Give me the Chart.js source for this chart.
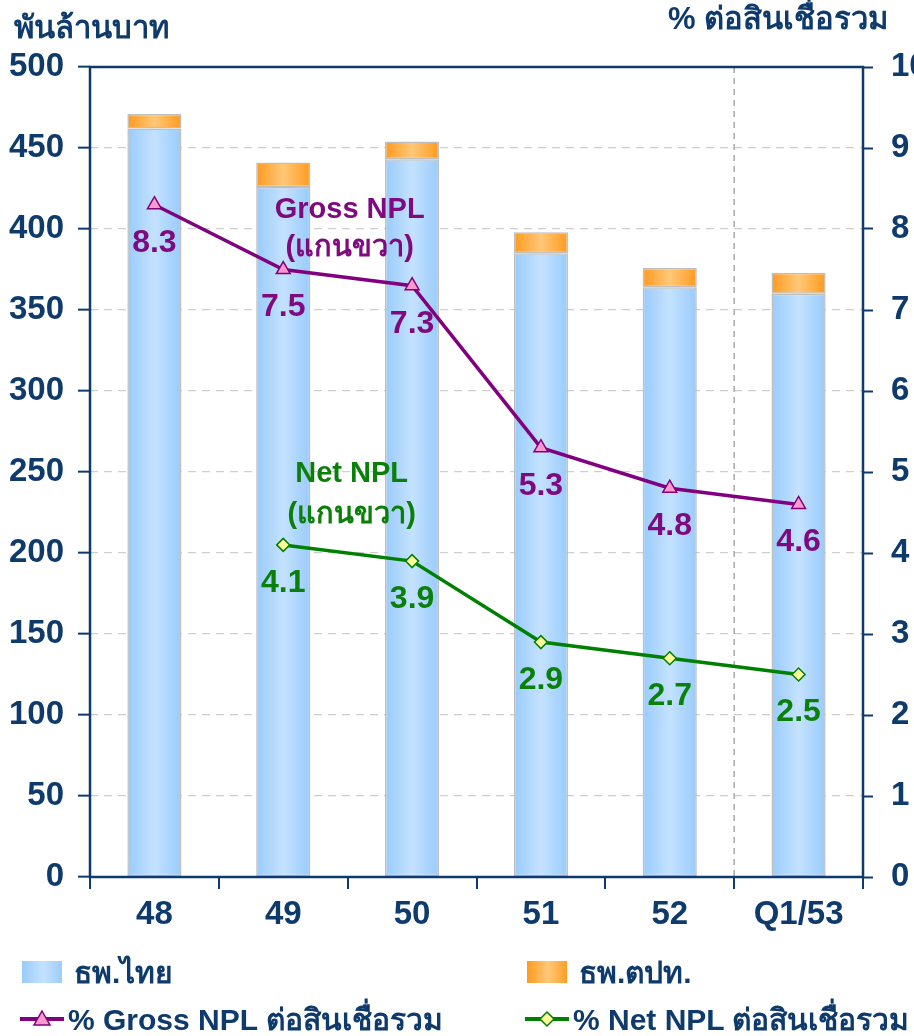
<!DOCTYPE html>
<html lang="th">
<head>
<meta charset="utf-8">
<script src="https://cdn.jsdelivr.net/npm/chart.js@4.4.1/dist/chart.umd.min.js"></script>
<style>
  html, body { margin: 0; padding: 0; background: #fff; }
  #wrap { position: relative; width: 914px; height: 1036px; overflow: hidden; }
  #c { position: absolute; left: 0; top: 0; }
  .ttl { position: absolute; font: bold 31px "Liberation Sans", Arial, sans-serif; color: #0E3A6C; white-space: nowrap; }
  .lg { position: absolute; height: 40px; line-height: 40px; font: bold 30px "Liberation Sans", Arial, sans-serif; color: #0E3A6C; white-space: nowrap; display: flex; align-items: center; }
</style>
</head>
<body>
<div id="wrap">
  <canvas id="c" width="914" height="1036"></canvas>
  <div class="ttl" style="left:14px; top:2px;">พันล้านบาท</div>
  <div class="ttl" style="left:668px; top:-7px;">% ต่อสินเชื่อรวม</div>
  <div id="legend"></div>
</div>
<script>
// Years (Thai Buddhist calendar) and the first quarter of 2553
const categories = ['48', '49', '50', '51', '52', 'Q1/53'];
// NPL outstanding, billion baht
const thaiBanks = [462, 426, 443, 385, 364, 360];
const foreignBanks = [9, 15, 11, 13, 12, 13];
// NPL ratios, % of total loans
const grossNplPct = [8.3, 7.5, 7.3, 5.3, 4.8, 4.6];
const netNplPct = [null, 4.1, 3.9, 2.9, 2.7, 2.5];
// Axis ticks
const leftTicks = [0, 50, 100, 150, 200, 250, 300, 350, 400, 450, 500];
const rightTicks = [0, 1, 2, 3, 4, 5, 6, 7, 8, 9, 10];

const NAVY = '#0E3A6C';
const PURPLE = '#7F0A80';
const GREEN = '#0A7F0A';
const FONT = '"Liberation Sans", Arial, sans-serif';
const BAR_PCT = 0.42;
const TICK_FONT = { family: FONT, size: 33, weight: 'bold' };

function barGradient(ctx, edge, mid) {
  const chart = ctx.chart;
  const xs = chart.scales && chart.scales.x;
  if (!xs || ctx.dataIndex === undefined) return edge;
  const cx = xs.getPixelForValue(ctx.dataIndex);
  const w = xs.width / categories.length * BAR_PCT;
  if (!isFinite(cx) || !isFinite(w) || w <= 0) return edge;
  const g = chart.ctx.createLinearGradient(cx - w / 2, 0, cx + w / 2, 0);
  g.addColorStop(0, edge);
  g.addColorStop(0.5, mid);
  g.addColorStop(1, edge);
  return g;
}

// Frame around the plot area plus the single dashed divider before the latest quarter
const framePlugin = {
  id: 'frame',
  beforeDatasetsDraw(chart) {
    const { ctx, chartArea: a, scales: { x } } = chart;
    const xd = (x.getPixelForValue(4) + x.getPixelForValue(5)) / 2;
    ctx.save();
    ctx.strokeStyle = '#A8A8A8';
    ctx.lineWidth = 1.5;
    ctx.setLineDash([6, 5]);
    ctx.beginPath();
    ctx.moveTo(xd, a.top);
    ctx.lineTo(xd, a.bottom);
    ctx.stroke();
    ctx.restore();
  },
  afterDraw(chart) {
    const { ctx, chartArea: a } = chart;
    ctx.save();
    ctx.strokeStyle = NAVY;
    ctx.lineWidth = 2.5;
    ctx.strokeRect(a.left, a.top, a.right - a.left, a.bottom - a.top);
    ctx.restore();
  }
};

// Value labels under the ratio points and the series notes on the plot
const labelPlugin = {
  id: 'valueLabels',
  afterDatasetsDraw(chart) {
    const { ctx, scales: { x, y1 } } = chart;
    ctx.save();
    ctx.textAlign = 'center';
    ctx.textBaseline = 'middle';
    ctx.font = 'bold 32px ' + FONT;
    [[2, PURPLE, 38], [3, GREEN, 38]].forEach(([di, color, dy]) => {
      const meta = chart.getDatasetMeta(di);
      ctx.fillStyle = color;
      meta.data.forEach((pt, i) => {
        const v = chart.data.datasets[di].data[i];
        if (v === null || v === undefined) return;
        ctx.fillText(v.toFixed(1), pt.x, pt.y + dy);
      });
    });
    const nx = (x.getPixelForValue(1) + x.getPixelForValue(2)) / 2;
    ctx.font = 'bold 29px ' + FONT;
    ctx.fillStyle = PURPLE;
    ctx.fillText('Gross NPL', nx + 2, y1.getPixelForValue(8.23));
    ctx.fillText('(แกนขวา)', nx + 2, y1.getPixelForValue(7.76));
    ctx.fillStyle = GREEN;
    ctx.fillText('Net NPL', nx + 4, y1.getPixelForValue(4.97));
    ctx.fillText('(แกนขวา)', nx + 4, y1.getPixelForValue(4.47));
    ctx.restore();
  }
};

const chart = new Chart(document.getElementById('c'), {
  data: {
    labels: categories,
    datasets: [
      {
        type: 'bar', label: 'ธพ.ไทย', data: thaiBanks, yAxisID: 'y', stack: 'npl', order: 2,
        backgroundColor: c => barGradient(c, '#99CBFB', '#C4E2FF'),
        borderColor: '#BEBEBE', borderWidth: 1.5, borderSkipped: false,
        barPercentage: BAR_PCT, categoryPercentage: 1
      },
      {
        type: 'bar', label: 'ธพ.ตปท.', data: foreignBanks, yAxisID: 'y', stack: 'npl', order: 2,
        backgroundColor: c => barGradient(c, '#FF9A1E', '#FFC878'),
        borderColor: '#BEBEBE', borderWidth: 1.5, borderSkipped: false,
        barPercentage: BAR_PCT, categoryPercentage: 1
      },
      {
        type: 'line', label: '% Gross NPL ต่อสินเชื่อรวม', data: grossNplPct, yAxisID: 'y1', order: 1,
        borderColor: '#800080', borderWidth: 3.5, tension: 0,
        pointStyle: 'triangle', pointRadius: 8, pointBackgroundColor: '#FF99CC',
        pointBorderColor: '#800080', pointBorderWidth: 1.5
      },
      {
        type: 'line', label: '% Net NPL ต่อสินเชื่อรวม', data: netNplPct, yAxisID: 'y1', order: 1,
        borderColor: '#008000', borderWidth: 3.5, tension: 0, spanGaps: false,
        pointStyle: 'rectRot', pointRadius: 6.5, pointBackgroundColor: '#FFFF99',
        pointBorderColor: '#008000', pointBorderWidth: 1.5
      }
    ]
  },
  options: {
    responsive: false,
    animation: false,
    layout: { padding: { top: 67, bottom: 99, left: 0, right: 0 } },
    plugins: { legend: { display: false }, tooltip: { enabled: false } },
    scales: {
      x: {
        stacked: true,
        offset: true,
        grid: { offset: true, drawOnChartArea: false, drawTicks: true, tickLength: 12, tickColor: NAVY, lineWidth: 2 },
        border: { display: false },
        ticks: { color: NAVY, font: TICK_FONT, padding: 6 },
        afterFit(s) { s.height = 60; }
      },
      y: {
        position: 'left', stacked: true, min: 0, max: 500,
        afterBuildTicks(s) { s.ticks = leftTicks.map(v => ({ value: v })); },
        grid: { color: '#CFCFCF', lineWidth: 1.3, tickColor: NAVY, tickLength: 12, tickBorderDash: [], tickWidth: 2 },
        border: { display: false, dash: [8, 6] },
        ticks: { color: NAVY, font: TICK_FONT, padding: 14 },
        afterFit(s) { s.width = 90; }
      },
      y1: {
        position: 'right', min: 0, max: 10,
        afterBuildTicks(s) { s.ticks = rightTicks.map(v => ({ value: v })); },
        grid: { drawOnChartArea: false, tickColor: NAVY, tickLength: 10, tickWidth: 2 },
        border: { display: false },
        ticks: { color: NAVY, font: TICK_FONT, padding: 18 },
        afterFit(s) { s.width = 51; }
      }
    }
  },
  plugins: [framePlugin, labelPlugin]
});

// Legend in two columns, markers drawn from each dataset's own style
const legendBox = document.getElementById('legend');
const slots = [[20, 952], [525, 952], [20, 999], [525, 999]];
chart.data.datasets.forEach((ds, i) => {
  const item = document.createElement('div');
  item.className = 'lg';
  item.style.left = slots[i][0] + 'px';
  item.style.top = slots[i][1] + 'px';
  const sw = document.createElement('canvas');
  sw.width = 46; sw.height = 34;
  const g = sw.getContext('2d');
  if (ds.type === 'bar') {
    const edge = i === 0 ? '#99CBFB' : '#FF9A1E';
    const mid = i === 0 ? '#C4E2FF' : '#FFC878';
    const gr = g.createLinearGradient(2, 0, 44, 0);
    gr.addColorStop(0, edge); gr.addColorStop(0.5, mid); gr.addColorStop(1, edge);
    g.fillStyle = gr;
    g.fillRect(2, 6, 40, 22);
    sw.style.marginRight = '8px';
  } else {
    g.strokeStyle = ds.borderColor; g.lineWidth = 4;
    g.beginPath(); g.moveTo(0, 17); g.lineTo(44, 17); g.stroke();
    g.fillStyle = ds.pointBackgroundColor; g.strokeStyle = ds.pointBorderColor; g.lineWidth = 1.5;
    g.beginPath();
    if (ds.pointStyle === 'triangle') {
      g.moveTo(22, 9); g.lineTo(30, 23); g.lineTo(14, 23); g.closePath();
    } else {
      g.moveTo(22, 10); g.lineTo(29, 17); g.lineTo(22, 24); g.lineTo(15, 17); g.closePath();
    }
    g.fill(); g.stroke();
    sw.style.marginRight = '2px';
  }
  item.appendChild(sw);
  const t = document.createElement('span');
  t.textContent = ds.label;
  item.appendChild(t);
  legendBox.appendChild(item);
});
</script>
</body>
</html>
